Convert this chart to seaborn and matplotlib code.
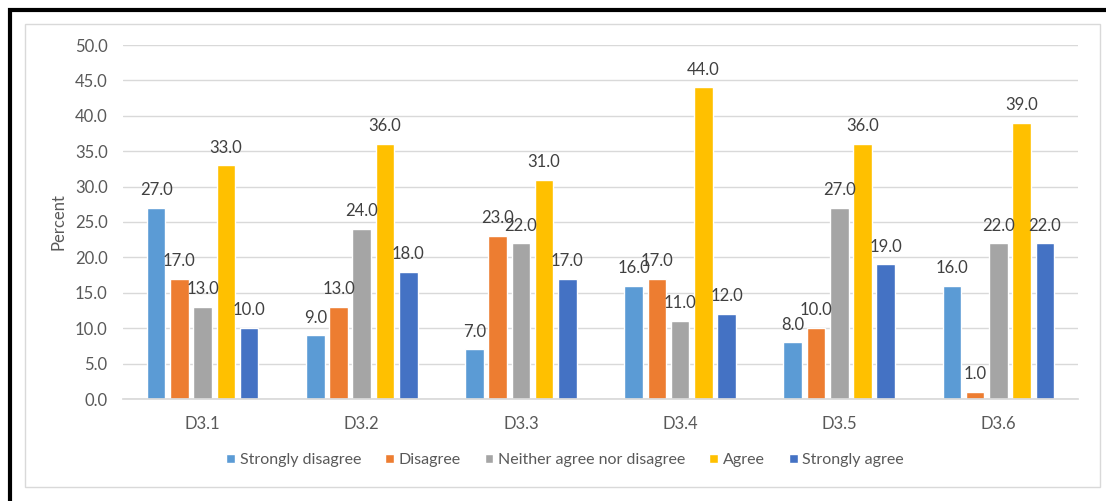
import matplotlib
matplotlib.use("Agg")
import matplotlib.pyplot as plt
from matplotlib.patches import Rectangle
import seaborn as sns
import pandas as pd

items = ["D3.1", "D3.2", "D3.3", "D3.4", "D3.5", "D3.6"]
responses = ["Strongly disagree", "Disagree", "Neither agree nor disagree",
             "Agree", "Strongly agree"]
strongly_disagree = [27.0, 9.0, 7.0, 16.0, 8.0, 16.0]
disagree = [17.0, 13.0, 23.0, 17.0, 10.0, 1.0]
neither = [13.0, 24.0, 22.0, 11.0, 27.0, 22.0]
agree = [33.0, 36.0, 31.0, 44.0, 36.0, 39.0]
strongly_agree = [10.0, 18.0, 17.0, 12.0, 19.0, 22.0]
y_ticks = [0, 5, 10, 15, 20, 25, 30, 35, 40, 45, 50]

palette = ["#5B9BD5", "#ED7D31", "#A5A5A5", "#FFC000", "#4472C4"]

series = [strongly_disagree, disagree, neither, agree, strongly_agree]
df = pd.DataFrame(
    [(item, resp, vals[i]) for resp, vals in zip(responses, series)
     for i, item in enumerate(items)],
    columns=["item", "response", "percent"],
)

sns.set_theme(style="white")
plt.rcParams["font.family"] = ["Lato", "DejaVu Sans"]
text_color = "#595959"
fs = 12

W, H = 1106, 501
fig = plt.figure(figsize=(W / 100, H / 100), dpi=100)
fig.patch.set_facecolor("white")
ax = fig.add_axes([123 / W, 1 - 399 / H, (1078 - 123) / W, (399 - 45) / H])

sns.barplot(data=df, x="item", y="percent", hue="response", order=items,
            hue_order=responses, palette=palette, width=0.73, gap=0.2,
            saturation=1, ax=ax, legend=True, errorbar=None)

ax.set_ylim(0, 50)
ax.set_xlim(-0.5, len(items) - 0.5)
ax.set_yticks(y_ticks)
ax.set_yticklabels([f"{v:.1f}" for v in y_ticks])
ax.yaxis.grid(True, color="#D9D9D9", linewidth=1)
ax.set_axisbelow(True)
for s in ["top", "right", "left"]:
    ax.spines[s].set_visible(False)
ax.spines["bottom"].set_color("#D9D9D9")
ax.tick_params(axis="both", length=0, labelsize=fs, labelcolor=text_color)
ax.tick_params(axis="x", pad=12)
ax.tick_params(axis="y", pad=11)
ax.set_xlabel("")
ax.set_ylabel("Percent", fontsize=fs, color=text_color, labelpad=6)

for container in ax.containers:
    ax.bar_label(container, fmt="%.1f", padding=7, fontsize=fs,
                 color="#404040")

handles, labels = ax.get_legend_handles_labels()
ax.legend_.remove()
fig.legend(handles, labels, loc="center", bbox_to_anchor=(565 / W, 1 - 460 / H),
           ncol=5, frameon=False, fontsize=fs - 0.5, labelcolor=text_color,
           handlelength=0.55, handleheight=0.55, handletextpad=0.3,
           columnspacing=1.5)

# chart area outline and outer frame
fig.add_artist(Rectangle((25 / W, 1 - 487 / H), (1100 - 25) / W, (487 - 24) / H,
                         transform=fig.transFigure, fill=False,
                         edgecolor="#D9D9D9", linewidth=1))
fig.add_artist(Rectangle((9.5 / W, -0.1), 1.2, 1.1 - 9.5 / H,
                         transform=fig.transFigure, fill=False,
                         edgecolor="black", linewidth=3))

fig.savefig("out.png", dpi=100)
